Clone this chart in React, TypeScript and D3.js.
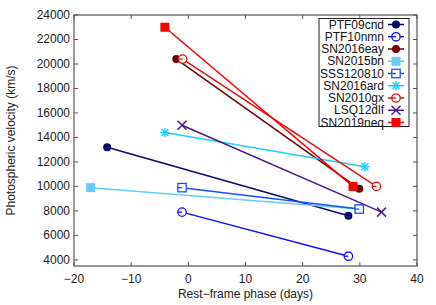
import * as d3 from 'd3';

// rest-frame phase (days) and photospheric velocity (km/s), two epochs per object
const names = ['PTF09cnd', 'PTF10nmn', 'SN2016eay', 'SN2015bn', 'SSS120810', 'SN2016ard', 'SN2010gx', 'LSQ12dlf', 'SN2019neq'];
const phaseStart = [-14.2, -1.1, -2.1, -17.1, -1.1, -4.1, -1.0, -1.1, -4.1];
const phaseEnd = [28.0, 28.0, 29.9, 29.9, 29.9, 30.9, 32.9, 33.8, 28.8];
const velStart = [13200, 7900, 20400, 9900, 9900, 14400, 20400, 15000, 23000];
const velEnd = [7600, 4300, 9800, 8150, 8150, 11600, 10000, 7900, 10000];
const colors = ['#0b0b6b', '#1010ff', '#6e0000', '#66ccff', '#1a4fff', '#22ccff', '#dd1111', '#4a1a8a', '#ff0000'];
const markers = ['dot', 'circle', 'dot', 'square', 'box', 'star', 'circle', 'cross', 'square'];

const xTicks = [-20, -10, 0, 10, 20, 30, 40];
const yTicks = [4000, 6000, 8000, 10000, 12000, 14000, 16000, 18000, 20000, 22000, 24000];

const W = 436;
const H = 305;
const m = { left: 74, right: 19, top: 15, bottom: 39 };
const font = 'Liberation Sans, Arial, sans-serif';

function Marker({ kind, x, y, color }: { kind: string; x: number; y: number; color: string }) {
  if (kind === 'dot') return <circle cx={x} cy={y} r={4} fill={color} />;
  if (kind === 'circle')
    return (
      <g stroke={color} strokeWidth={1.3} fill="#fff">
        <circle cx={x} cy={y} r={4.2} />
        <line x1={x - 4.2} x2={x} y1={y} y2={y} />
      </g>
    );
  if (kind === 'square') return <rect x={x - 4.5} y={y - 4.5} width={9} height={9} fill={color} />;
  if (kind === 'box')
    return (
      <g stroke={color} strokeWidth={1.3} fill="#fff">
        <rect x={x - 4.2} y={y - 4.2} width={8.4} height={8.4} />
        <line x1={x - 4.2} x2={x} y1={y} y2={y} />
      </g>
    );
  if (kind === 'star')
    return (
      <g stroke={color} strokeWidth={1.5}>
        <line x1={x - 4.5} x2={x + 4.5} y1={y} y2={y} />
        <line x1={x} x2={x} y1={y - 4.5} y2={y + 4.5} />
        <line x1={x - 3.5} x2={x + 3.5} y1={y - 3.5} y2={y + 3.5} />
        <line x1={x - 3.5} x2={x + 3.5} y1={y + 3.5} y2={y - 3.5} />
      </g>
    );
  return (
    <g stroke={color} strokeWidth={1.5}>
      <line x1={x - 4.5} x2={x + 4.5} y1={y - 4.5} y2={y + 4.5} />
      <line x1={x - 4.5} x2={x + 4.5} y1={y + 4.5} y2={y - 4.5} />
    </g>
  );
}

export default function App() {
  const x = d3.scaleLinear().domain([-20, 40]).range([m.left, W - m.right]);
  const y = d3.scaleLinear().domain([3500, 24000]).range([H - m.bottom, m.top]);
  const x0 = m.left;
  const x1 = W - m.right;
  const y0 = H - m.bottom;
  const y1 = m.top;
  const axisColor = '#555';

  const legX = 319;
  const legY = 18.5;
  const legRow = 12.25;

  return (
    <svg width={W} height={H} style={{ position: 'absolute', left: 0, top: 0 }} fontFamily={font}>
      <rect width={W} height={H} fill="#fff" />
      {/* series */}
      {names.map((n, i) => (
        <g key={n}>
          <line
            x1={x(phaseStart[i])}
            y1={y(velStart[i])}
            x2={x(phaseEnd[i])}
            y2={y(velEnd[i])}
            stroke={colors[i]}
            strokeWidth={1.5}
          />
          <Marker kind={markers[i]} x={x(phaseStart[i])} y={y(velStart[i])} color={colors[i]} />
          <Marker kind={markers[i]} x={x(phaseEnd[i])} y={y(velEnd[i])} color={colors[i]} />
        </g>
      ))}
      {/* frame and ticks */}
      <rect x={x0} y={y1} width={x1 - x0} height={y0 - y1} fill="none" stroke={axisColor} strokeWidth={1.2} />
      {xTicks.map((t) => (
        <g key={t}>
          <line x1={x(t)} x2={x(t)} y1={y0} y2={y0 - 4} stroke={axisColor} />
          <line x1={x(t)} x2={x(t)} y1={y1} y2={y1 + 4} stroke={axisColor} />
          <text x={x(t)} y={y0 + 17} textAnchor="middle" fontSize={12} fill="#222">
            {t < 0 ? `\u2212${-t}` : t}
          </text>
        </g>
      ))}
      {yTicks.map((t) => (
        <g key={t}>
          <line x1={x0} x2={x0 + 4} y1={y(t)} y2={y(t)} stroke={axisColor} />
          <line x1={x1} x2={x1 - 4} y1={y(t)} y2={y(t)} stroke={axisColor} />
          <text x={x0 - 4} y={y(t) + 4} textAnchor="end" fontSize={12} fill="#222">
            {t}
          </text>
        </g>
      ))}
      <text x={(x0 + x1) / 2} y={H - 7} textAnchor="middle" fontSize={12} fill="#222">
        Rest{'\u2212'}frame phase (days)
      </text>
      <text
        transform={`translate(15,${(y0 + y1) / 2}) rotate(-90)`}
        textAnchor="middle"
        fontSize={12}
        fill="#222"
      >
        Photospheric velocity (km/s)
      </text>
      {/* legend */}
      <rect x={legX} y={legY} width={90} height={108} fill="#fff" stroke="#222" strokeWidth={1} />
      {names.map((n, i) => {
        const cy = legY + 6 + i * legRow;
        return (
          <g key={n}>
            <text x={legX + 65} y={cy + 4} textAnchor="end" fontSize={12} fill="#111">
              {n}
            </text>
            <line x1={legX + 69} x2={legX + 85} y1={cy} y2={cy} stroke={colors[i]} strokeWidth={1.5} />
            <Marker kind={markers[i]} x={legX + 77} y={cy} color={colors[i]} />
          </g>
        );
      })}
    </svg>
  );
}
